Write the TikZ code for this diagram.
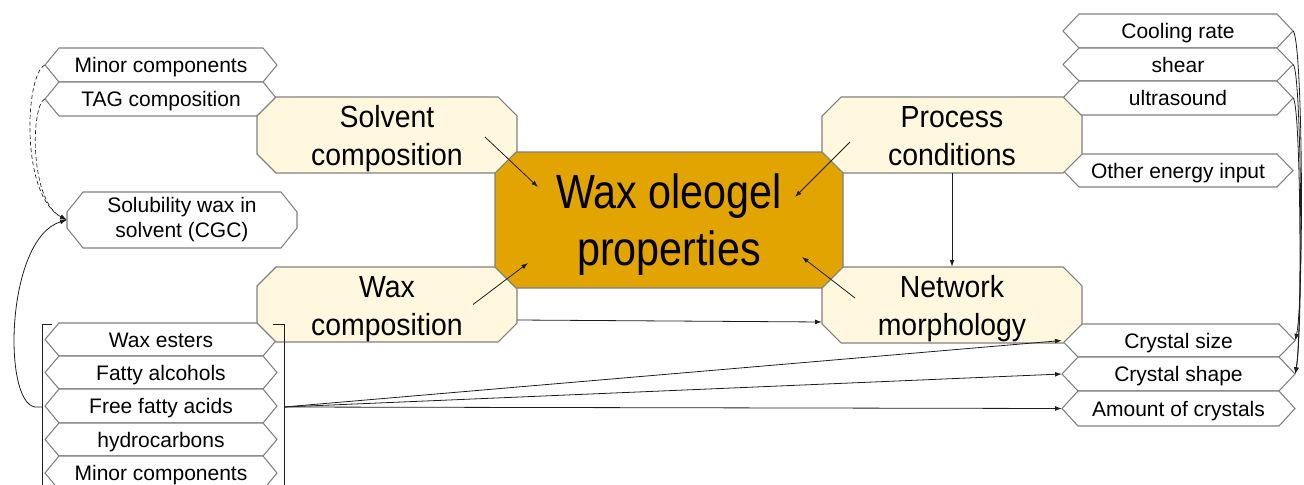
\documentclass[tikz,border=0pt]{standalone}
\usepackage{fontspec}
\setmainfont{Liberation Sans}
\newfontfamily\medfont[FakeStretch=0.93]{Liberation Sans}
\newfontfamily\bigfont[FakeStretch=0.86]{Liberation Sans}
\usetikzlibrary{arrows.meta,calc}
\definecolor{boxgray}{RGB}{128,128,128}
\definecolor{cream}{RGB}{255,248,222}
\definecolor{gold}{RGB}{226,164,0}
\definecolor{ink}{RGB}{30,30,30}
\newcommand\chbox[9]{%
  \pgfmathsetmacro\qxa{#3+#7}\pgfmathsetmacro\qxb{#5-#7}%
  \pgfmathsetmacro\qya{#4+#8}\pgfmathsetmacro\qyb{#6-#8}%
  \pgfmathsetmacro\qmx{(#3+#5)/2}\pgfmathsetmacro\qmy{(#4+#6)/2}%
  \pgfmathsetmacro\qbw{(#5-#3)*0.75}\pgfmathsetmacro\qbh{(#6-#4)*0.75}%
  \path[#1 shape] (\qxa,#4) -- (\qxb,#4) -- (#5,\qya) -- (#5,\qyb) -- (\qxb,#6) -- (\qxa,#6) -- (#3,\qyb) -- (#3,\qya) -- cycle;
  \node[#1 text, minimum width=\qbw pt, minimum height=\qbh pt] (#2) at (\qmx,\qmy) {#9};
}
\newcommand\topstrut[1]{\rule{0pt}{#1}}
\newcommand\botstrut{\rule[-0.22em]{0pt}{0.22em}}
\tikzset{
  small shape/.style={draw=boxgray, fill=white, line width=0.8pt},
  small text/.style={font=\fontsize{15.75}{18.75}\selectfont, text height=11.3pt, text depth=0pt, inner sep=0pt},
  solub shape/.style={draw=boxgray, fill=white, line width=0.8pt},
  solub text/.style={font=\fontsize{15.75}{18.75}\selectfont, align=center, inner sep=0pt},
  cream shape/.style={draw=boxgray, fill=cream, line width=0.8pt},
  cream text/.style={font=\medfont\fontsize{22.9}{28.5}\selectfont, align=center, inner sep=0pt},
  core shape/.style={draw=boxgray, fill=gold, line width=0.8pt},
  core text/.style={font=\bigfont\fontsize{36}{42.75}\selectfont, align=center, inner sep=0pt},
  link/.style={draw=ink, line width=0.6pt},
  arr/.style={link, -{Latex[length=5pt,width=3.6pt]}},
  dlink/.style={arr, densely dashed, line width=0.5pt},
}
\begin{document}
\begin{tikzpicture}[x=0.75pt, y=-0.75pt]
\useasboundingbox (0,0) rectangle (1304,485);
\begin{scope}
\clip (0,0) rectangle (1304,485);
% left column
\chbox{small}{minorA}{45}{48}{277}{82}{14}{17}{Minor components}
\chbox{small}{tag}{45}{82}{277}{116}{14}{17}{TAG composition}
\chbox{solub}{solub}{67}{192}{297}{248}{16}{20}{Solubility wax in\\solvent (CGC)}
\chbox{small}{esters}{45}{323}{277}{356}{14}{16.5}{Wax esters}
\chbox{small}{alcohols}{45}{356}{277}{389}{14}{16.5}{Fatty alcohols}
\chbox{small}{ffa}{45}{389}{277}{423}{14}{17}{Free fatty acids}
\chbox{small}{hydro}{45}{423}{277}{456}{14}{16.5}{hydrocarbons}
\chbox{small}{minorB}{45}{456}{277}{490}{14}{17}{Minor components}
% right column
\chbox{small}{cool}{1063}{14}{1293}{48}{16}{17}{Cooling rate}
\chbox{small}{shear}{1063}{48}{1293}{81}{16}{16.5}{shear}
\chbox{small}{ultra}{1063}{81}{1293}{115}{16}{17}{ultrasound}
\chbox{small}{other}{1063}{154}{1293}{187}{16}{16.5}{Other energy input}
\chbox{small}{csize}{1062}{324}{1295}{357}{16}{16.5}{Crystal size}
\chbox{small}{cshape}{1062}{357}{1295}{391}{16}{17}{Crystal shape}
\chbox{small}{amount}{1062}{391}{1295}{426}{16}{17.5}{Amount of crystals}
% cream boxes
\chbox{cream}{solvent}{257}{97}{517}{173}{19}{19}{\topstrut{1em}Solvent\\composition\botstrut}
\chbox{cream}{waxc}{257}{267}{517}{342}{19}{19}{\topstrut{1em}Wax\\composition\botstrut}
\chbox{cream}{process}{822}{97}{1082}{173}{19}{19}{\topstrut{1em}Process\\conditions\botstrut}
\chbox{cream}{network}{822}{267}{1082}{343}{19}{19}{\topstrut{1em}Network\\morphology\botstrut}
% core
\chbox{core}{core}{495}{152}{843}{288}{21}{21}{\topstrut{0.9em}Wax oleogel\\properties}
% brackets
\coordinate (lbr) at (42,407);
\coordinate (rbr) at (284,407);
\draw[link] (52,324) -- (42,324) -- (42,490);
\draw[link] (273,324) -- (284,324) -- (284,490);
% arrows into core
\draw[arr] ($(solvent.center)+(98,2)$) -- ($(core.center)+(-131,-33)$);
\draw[arr] ($(waxc.center)+(86,0)$) -- ($(core.center)+(-141,43)$);
\draw[arr] ($(process.center)+(-102,7)$) -- ($(core.center)+(126,-23)$);
\draw[arr] ($(network.center)+(-97,-7)$) -- ($(core.center)+(133,37)$);
% other connectors
\draw[arr] (process.south) -- (network.north);
\draw[arr] ($(waxc.east)+(0,15.5)$) -- ($(network.west)+(0,17)$);
\draw[dlink] (minorA.west) .. controls (25,75) and (20,195) .. (solub.west);
\draw[dlink] (tag.west) .. controls (31,105) and (29,200) .. (solub.west);
\draw[arr] (lbr) -- (35,407) .. controls (2,402) and (6,238) .. (solub.west);
\draw[arr] (rbr) -- (csize.west);
\draw[arr] (rbr) -- (cshape.west);
\draw[arr] (rbr) -- (amount.west);
\draw[arr] (cool.east) .. controls (1303,45) and (1304,300) .. (csize.east);
\draw[arr] (shear.east) .. controls (1302,75) and (1303,330) .. (cshape.east);
\draw[arr] (ultra.east) .. controls (1301,108) and (1302,335) .. (cshape.east);
\end{scope}
\end{tikzpicture}
\end{document}
